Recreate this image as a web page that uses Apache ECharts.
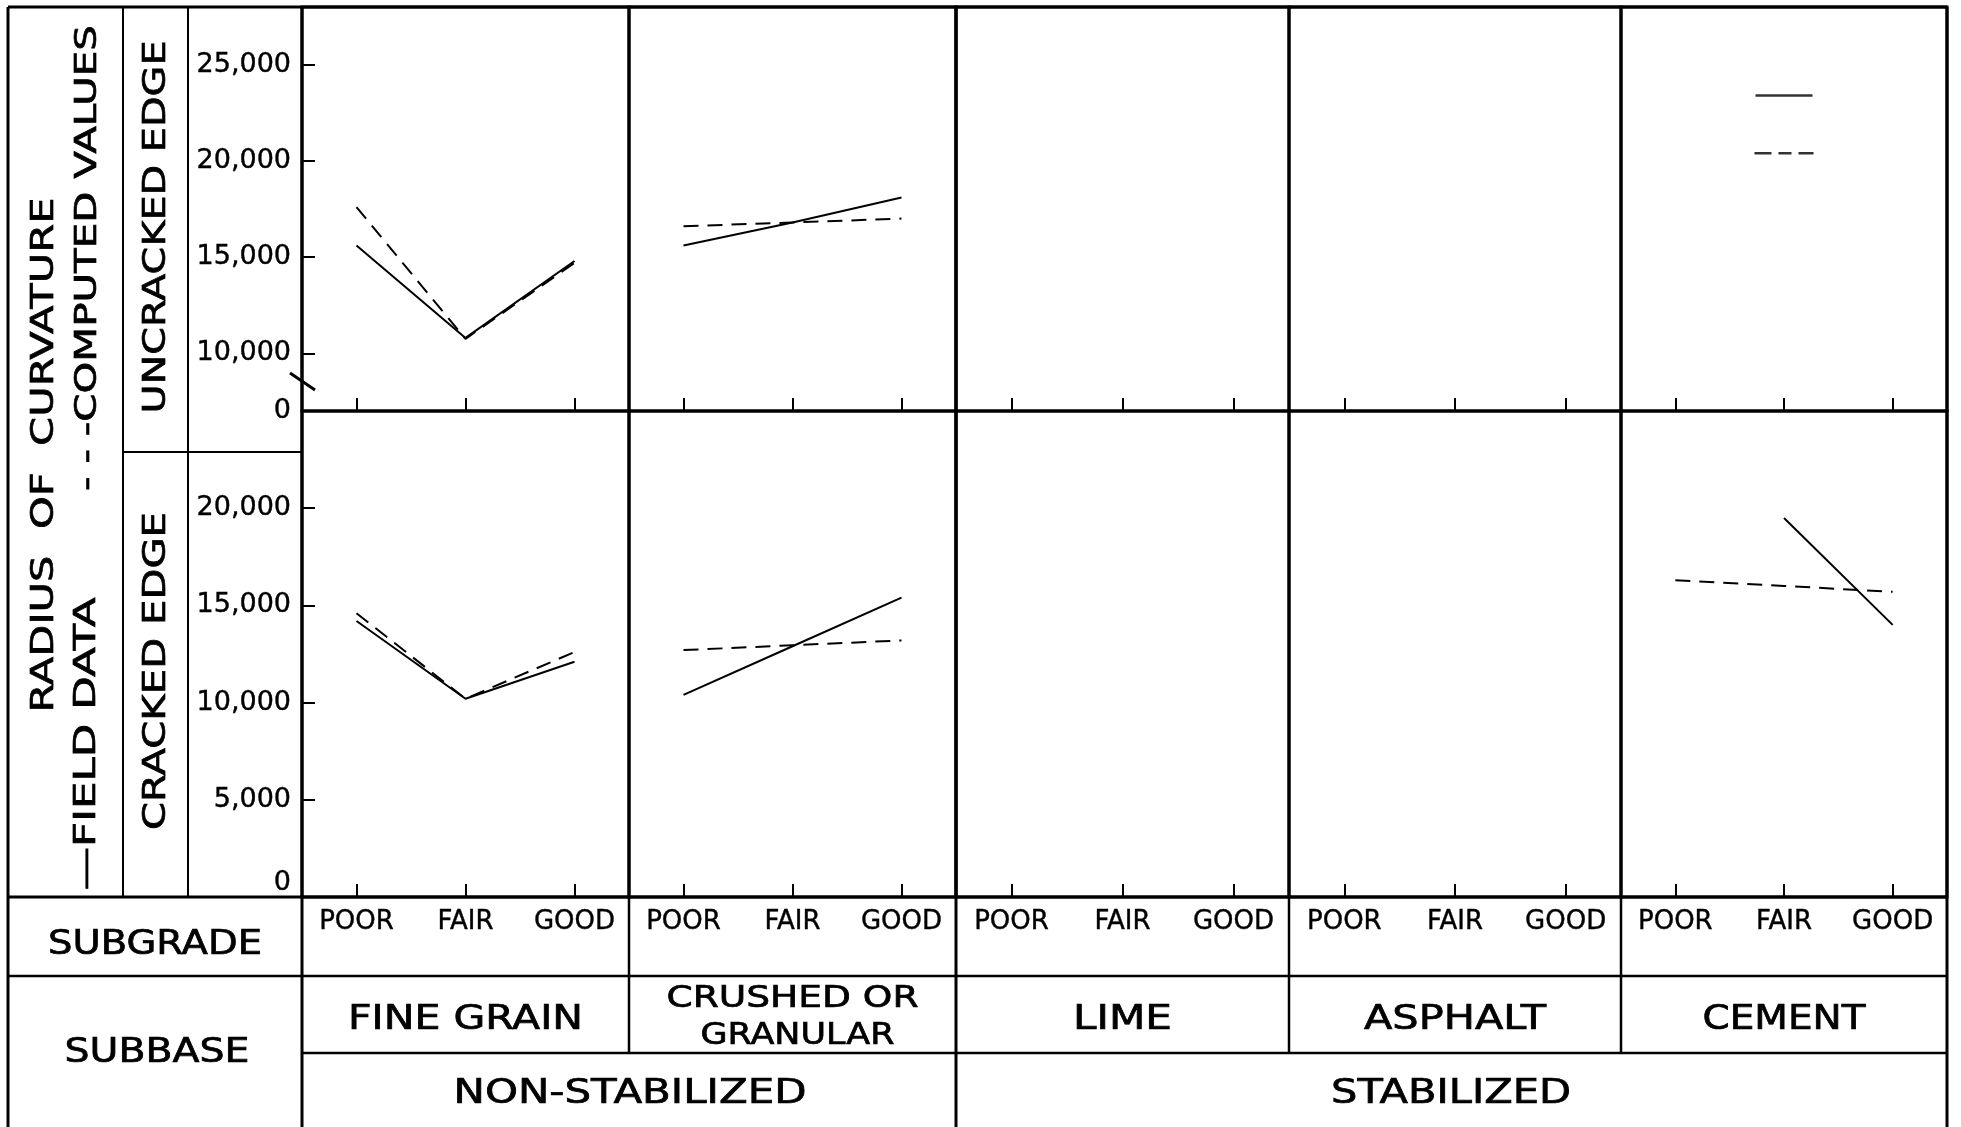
<!DOCTYPE html>
<html>
<head>
<meta charset="utf-8">
<script src="https://cdn.jsdelivr.net/npm/echarts@6/dist/echarts.min.js"></script>
<style>
  html, body { margin: 0; padding: 0; background: #fff; }
  #chart { width: 1961px; height: 1127px; }
</style>
</head>
<body>
<div id="chart"></div>
<script>
// categories
var subgrades = ['POOR', 'FAIR', 'GOOD']
var subbases = ['FINE GRAIN', 'CRUSHED OR\nGRANULAR', 'LIME', 'ASPHALT', 'CEMENT']
var stabilization = ['NON-STABILIZED', 'STABILIZED']

// y tick labels
var upperMin = 7000 // broken axis, bottom labelled 0
var upperTicks = [10000, 15000, 20000, 25000]
var lowerTicks = [5000, 10000, 15000, 20000]

// radius of curvature, one row per subbase (POOR, FAIR, GOOD)
var uncrackedField = [
  [15600, 10800, 14800],
  [15600, 16800, 18100],
  [null, null, null],
  [null, null, null],
  [null, 23400, null]
]
var uncrackedComputed = [
  [17600, 10750, 14700],
  [16600, 16800, 17000],
  [null, null, null],
  [null, null, null],
  [null, 20400, null]
]
var crackedField = [
  [14200, 10200, 12100],
  [10400, 12900, 15400],
  [null, null, null],
  [null, null, null],
  [null, 19500, 14000]
]
var crackedComputed = [
  [14600, 10200, 12600],
  [12700, 12950, 13200],
  [null, null, null],
  [null, null, null],
  [16300, 16000, 15700]
]

var FONT = 'DejaVu Sans'
var colX = [302, 629, 956, 1289, 1621, 1947]
var rowY = [7, 411, 897]

function fmt(v) {
  return v.toLocaleString('en-US')
}

// keep only points that have no neighbour, they get a short dash mark
function isolated(arr) {
  return arr.map(function (v, k) {
    var prev = k > 0 ? arr[k - 1] : null
    var next = k < arr.length - 1 ? arr[k + 1] : null
    return (v != null && prev == null && next == null) ? v : null
  })
}

var chart = echarts.init(document.getElementById('chart'))

var grids = []
var xAxes = []
var yAxes = []
var series = []
var tickStyle = { color: '#000', width: 2 }
var labelInk = { color: '#000', textBorderColor: '#000', textBorderWidth: 0.4 }

for (var r = 0; r < 2; r++) {
  for (var c = 0; c < 5; c++) {
    var i = r * 5 + c
    grids.push({
      left: colX[c],
      top: rowY[r],
      width: colX[c + 1] - colX[c],
      height: rowY[r + 1] - rowY[r],
      show: true,
      borderColor: '#000',
      borderWidth: 3,
      backgroundColor: 'transparent',
      outerBoundsMode: 'none'
    })
    xAxes.push({
      type: 'category',
      gridIndex: i,
      data: subgrades,
      boundaryGap: true,
      axisLine: { show: false },
      axisTick: { show: true, inside: true, alignWithLabel: true, length: 13, lineStyle: tickStyle },
      axisLabel: Object.assign({ show: r === 1, margin: 12, fontSize: 26, fontFamily: FONT }, labelInk),
      splitLine: { show: false }
    })
    yAxes.push({
      type: 'value',
      gridIndex: i,
      min: r === 0 ? upperMin : 0,
      max: r === 0 ? 28000 : 25000,
      show: c === 0,
      axisLine: { show: false },
      splitLine: { show: false },
      axisTick: {
        show: true,
        inside: true,
        length: 13,
        lineStyle: tickStyle,
        customValues: r === 0 ? upperTicks : lowerTicks
      },
      axisLabel: Object.assign({
        margin: 11,
        fontSize: 27,
        fontFamily: FONT,
        customValues: r === 0 ? [upperMin].concat(upperTicks) : [0].concat(lowerTicks),
        formatter: function (v) {
          if (v === upperMin) return '0'
          if (v === 0) return '{z|0}'
          return fmt(v)
        },
        rich: { z: Object.assign({ padding: [0, 0, 28, 0], fontSize: 27, fontFamily: FONT }, labelInk) }
      }, labelInk)
    })

    var field = r === 0 ? uncrackedField[c] : crackedField[c]
    var computed = r === 0 ? uncrackedComputed[c] : crackedComputed[c]
    series.push({
      type: 'line', xAxisIndex: i, yAxisIndex: i, data: field,
      symbol: 'none', lineStyle: { color: '#000', width: 2 }, silent: true
    })
    series.push({
      type: 'line', xAxisIndex: i, yAxisIndex: i, data: computed,
      symbol: 'none', lineStyle: { color: '#000', width: 2, type: [15, 9] }, silent: true
    })
    series.push({
      type: 'scatter', xAxisIndex: i, yAxisIndex: i, data: isolated(field),
      symbol: 'rect', symbolSize: [57, 2.5], itemStyle: { color: '#000' }, silent: true
    })
    series.push({
      type: 'scatter', xAxisIndex: i, yAxisIndex: i, data: isolated(computed),
      symbol: 'path://M0,0h17v2h-17zM24,0h13v2h-13zM44,0h15v2h-15z',
      symbolSize: [59, 2.5], itemStyle: { color: '#000' }, silent: true
    })
  }
}

// table lines around the panels
var L = function (x1, y1, x2, y2, w) {
  return { type: 'line', shape: { x1: x1, y1: y1, x2: x2, y2: y2 }, style: { stroke: '#000', lineWidth: w || 3 }, z: 20, silent: true }
}
var graphics = [
  L(8, 7, 1947, 7), L(8, 7, 8, 1127), L(1947, 7, 1947, 1127),
  L(123, 7, 123, 897, 2), L(188, 7, 188, 897, 2), L(123, 452, 302, 452, 2),
  L(302, 7, 302, 1127), L(8, 897, 1947, 897), L(8, 976, 1947, 976, 2.5),
  L(302, 1053, 1947, 1053, 2.5),
  L(629, 897, 629, 1053, 2.5), L(1289, 897, 1289, 1053, 2.5), L(1621, 897, 1621, 1053, 2.5),
  L(956, 7, 956, 1127),
  L(290, 373, 315, 390, 3) // axis break
]

// stretch text so it spans the same width as the lettering in the figure
var mctx = document.createElement('canvas').getContext('2d')
function T(text, x, y, size, w, rot) {
  mctx.font = size + 'px "' + FONT + '"'
  var sx = w / mctx.measureText(text).width
  return {
    type: 'text', x: x, y: y, rotation: rot || 0, scaleX: sx, z: 30, silent: true,
    style: {
      text: text, fill: '#000', stroke: '#000', lineWidth: 0.7,
      font: size + 'px "' + FONT + '"',
      align: 'center', verticalAlign: 'middle', textAlign: 'center', textVerticalAlign: 'middle'
    }
  }
}
var V = Math.PI / 2
graphics.push(
  T('SUBGRADE', 155, 945, 33, 214),
  T('SUBBASE', 157, 1053, 33, 185),
  T('UNCRACKED EDGE', 157, 227, 32, 373, V),
  T('CRACKED EDGE', 157, 671, 32, 318, V),
  T('RADIUS  OF  CURVATURE', 45, 455, 32, 515, V),
  T('\u2014FIELD DATA', 87, 744, 31, 293, V),
  T('- - -COMPUTED VALUES', 88, 258, 31, 466, V)
)
var subbaseW = [[235], [252, 194], [99], [182], [163]]
subbases.forEach(function (s, c) {
  var cx = (colX[c] + colX[c + 1]) / 2
  var lines = s.split('\n')
  lines.forEach(function (t, k) {
    var yy = lines.length === 1 ? 1020 : 999 + k * 37
    graphics.push(T(t, cx + (k === 1 ? 5 : 0), yy, lines.length === 1 ? 33 : 31, subbaseW[c][k]))
  })
})
graphics.push(
  T(stabilization[0], 630, 1094, 33, 353),
  T(stabilization[1], 1451, 1094, 33, 240)
)

chart.setOption({
  animation: false,
  backgroundColor: '#fff',
  grid: grids,
  xAxis: xAxes,
  yAxis: yAxes,
  series: series,
  graphic: graphics
})
</script>
</body>
</html>
